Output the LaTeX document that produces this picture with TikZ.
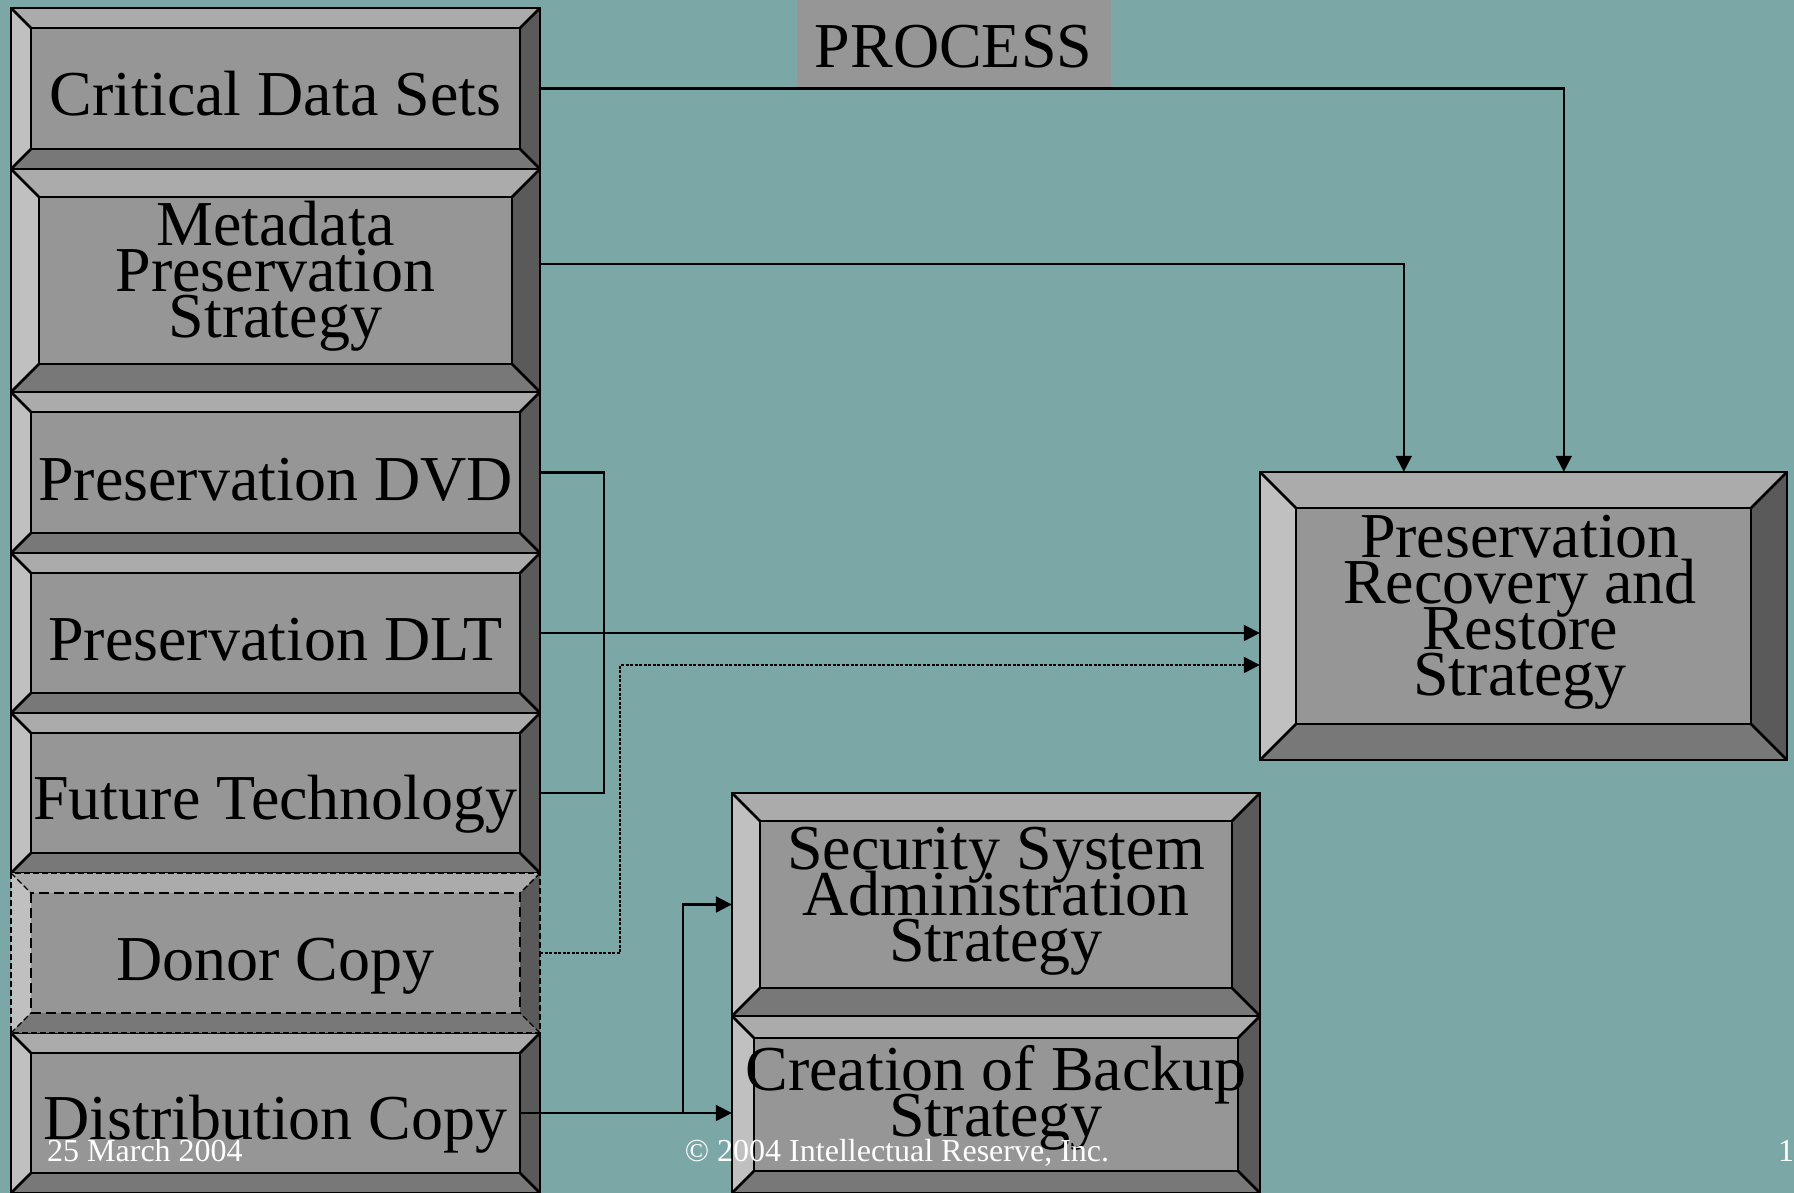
\documentclass[tikz,border=0pt]{standalone}
\usepackage{fontspec}
\setmainfont{Liberation Serif}
\usetikzlibrary{arrows.meta,fit}
\definecolor{bgteal}{RGB}{123,168,166}
\definecolor{bvfacec}{RGB}{150,150,150}
\definecolor{bvtopc}{RGB}{171,171,171}
\definecolor{bvleftc}{RGB}{192,192,192}
\definecolor{bvbotc}{RGB}{120,120,120}
\definecolor{bvrightc}{RGB}{90,90,90}
\newcommand{\bigfont}{\fontsize{64}{46}\selectfont\lineskiplimit=-200pt\relax\lineskip=0pt\relax}
\newcommand{\footfont}{\fontsize{32}{36}\selectfont}
\tikzset{
  bvtop/.style={fill=bvtopc},
  bvleft/.style={fill=bvleftc},
  bvbot/.style={fill=bvbotc},
  bvright/.style={fill=bvrightc},
  bvface/.style={fill=bvfacec},
  solidedge/.style={line width=2.6pt, line join=miter},
  dashouter/.style={line width=1.4pt, dash pattern=on 6pt off 3pt},
  dashinner/.style={line width=2.4pt, dash pattern=on 10pt off 5pt},
  lbl/.style={font=\bigfont, align=center, inner sep=0pt},
  conn/.style={line width=2.2pt},
  arr/.style={-{Triangle[length=16pt,width=16pt]}},
  dotconn/.style={line width=2.4pt, dash pattern=on 3pt off 1.5pt},
  foot/.style={font=\footfont, text=white, inner sep=0pt},
  procbox/.style={fill=bvfacec, inner sep=0pt, minimum width=314pt, minimum height=87pt,
    font=\bigfont, text height=49pt, text depth=0pt},
}
\newcommand{\bevbox}[8]{%
  \coordinate (#1-A) at (#2,#3);
  \coordinate (#1-B) at (#4,#3);
  \coordinate (#1-C) at (#4,#5);
  \coordinate (#1-D) at (#2,#5);
  \coordinate (#1-a) at (#2+#6,#3+#6);
  \coordinate (#1-b) at (#4-#6,#3+#6);
  \coordinate (#1-c) at (#4-#6,#5-#6);
  \coordinate (#1-d) at (#2+#6,#5-#6);
  \fill[bvtop] (#1-A) -- (#1-B) -- (#1-b) -- (#1-a) -- cycle;
  \fill[bvleft] (#1-A) -- (#1-a) -- (#1-d) -- (#1-D) -- cycle;
  \fill[bvbot] (#1-D) -- (#1-d) -- (#1-c) -- (#1-C) -- cycle;
  \fill[bvright] (#1-B) -- (#1-C) -- (#1-c) -- (#1-b) -- cycle;
  \fill[bvface] (#1-a) rectangle (#1-c);
  \draw[#7] (#1-A) -- (#1-a) (#1-B) -- (#1-b) (#1-C) -- (#1-c) (#1-D) -- (#1-d);
  \draw[#8] (#1-a) rectangle (#1-c);
  \draw[#7] (#1-A) rectangle (#1-C);
  \node[inner sep=0pt, fit=(#1-A)(#1-C)] (#1) {};
}
\begin{document}
\begin{tikzpicture}[x=1pt,y=-1pt]
\useasboundingbox (0,0) rectangle (1794,1193);
\clip (0,0) rectangle (1794,1193);
\fill[bgteal] (0,0) rectangle (1794,1193);

% title
\node[procbox] (proc) at (953.5,43.5) {PROCESS};

% left column
\bevbox{crit}{11}{8}{540}{169}{20}{solidedge}{solidedge}
\bevbox{meta}{11}{169}{540}{392}{28}{solidedge}{solidedge}
\bevbox{dvd}{11}{392}{540}{553}{20}{solidedge}{solidedge}
\bevbox{dlt}{11}{553}{540}{713}{20}{solidedge}{solidedge}
\bevbox{fut}{11}{713}{540}{873}{20}{solidedge}{solidedge}
\bevbox{dist}{11}{1033}{540}{1193}{20}{solidedge}{solidedge}
\bevbox{donor}{11}{873}{540}{1033}{20}{dashouter}{dashinner}

% right boxes
\bevbox{prrs}{1260}{472}{1787}{760}{36}{solidedge}{solidedge}
\bevbox{sec}{732}{793}{1260}{1016}{28}{solidedge}{solidedge}
\bevbox{backup}{732}{1016}{1260}{1193}{22}{solidedge}{solidedge}

% labels (base anchor = baseline of last line)
\node[lbl, anchor=base] (crit-t) at (275.5,116) {Critical Data Sets};
\node[lbl, anchor=base] (meta-t) at (275.5,337) {Metadata\\Preservation\\Strategy};
\node[lbl, anchor=base] (dvd-t) at (275.5,500) {Preservation DVD};
\node[lbl, anchor=base] (dlt-t) at (275.5,660) {Preservation DLT};
\node[lbl, anchor=base] (fut-t) at (275.5,819) {Future Technology};
\node[lbl, anchor=base] (donor-t) at (275.5,980) {Donor Copy};
\node[lbl, anchor=base] (dist-t) at (275.5,1139) {Distribution Copy};
\node[lbl, anchor=base] (prrs-t) at (1520,695) {Preservation\\Recovery and\\Restore\\Strategy};
\node[lbl, anchor=base] (sec-t) at (996,961) {Security System\\Administration\\Strategy};
\node[lbl, anchor=base] (backup-t) at (996,1136) {Creation of Backup\\Strategy};

% connectors
\draw[conn, arr] (crit.east) -| ([xshift=304pt]prrs.north west);
\draw[conn, arr] ([yshift=16.5pt]meta.east) -| ([xshift=144pt]prrs.north west);
\draw[conn] (dvd.east) -- ++(64,0) |- (fut.east);
\draw[conn, arr] (dlt.east) -- (dlt.east -| prrs.west);
\draw[dotconn, arr] (donor.east) -- ++(80,0) |- ([yshift=-49pt]prrs.west);
\draw[conn, arr] ([xshift=-20pt]dist.east) -- (dist.east -| backup.west);
\draw[conn, arr] ([xshift=143pt]dist.east) |- (sec.west);

% footer
\node[foot, anchor=base west] (date) at (47,1161) {25 March 2004};
\node[foot, anchor=base] (copy) at (897,1161) {© 2004 Intellectual Reserve, Inc.};
\node[foot, anchor=base west] (pgnum) at (1778,1161) {12};
\end{tikzpicture}
\end{document}
